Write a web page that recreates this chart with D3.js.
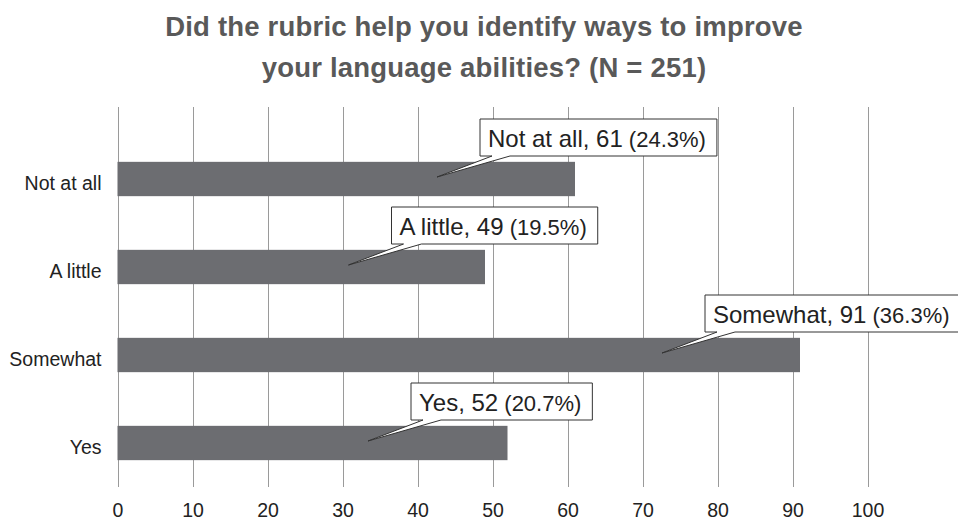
<!DOCTYPE html>
<html>
<head>
<meta charset="utf-8">
<script src="https://cdn.jsdelivr.net/npm/d3@7"></script>
<style>
  html, body { margin: 0; padding: 0; background: #fff; }
  svg { display: block; font-family: "Liberation Sans", Arial, Helvetica, sans-serif; }
</style>
</head>
<body>
<svg id="chart" width="958" height="520"></svg>
<script>
// ---- data ----
const titleLines = ["Did the rubric help you identify ways to improve", "your language abilities? (N = 251)"];
const totalN = 251;
const categories = ["Not at all", "A little", "Somewhat", "Yes"];
const counts = [61, 49, 91, 52];
const xTicks = [0, 10, 20, 30, 40, 50, 60, 70, 80, 90, 100];
// callout pointer tip positions, in data units along each bar
const calloutTip = [42.6, 30.8, 72.6, 33.4];

// ---- layout ----
const svg = d3.select("#chart");
const x = d3.scaleLinear().domain([0, 100]).range([117.5, 867.5]);
const y = d3.scaleBand().domain(categories).range([135, 487]).paddingInner(0.61).paddingOuter(0.305);
const gridTop = 107, gridBottom = 487;

// title
svg.append("g").selectAll("text").data(titleLines).join("text")
  .attr("x", 484).attr("y", (d, i) => 36 + i * 40.5)
  .attr("text-anchor", "middle")
  .style("font-size", "27.5px").style("font-weight", "bold")
  .style("letter-spacing", "0.2px")
  .attr("fill", "#595959")
  .text(d => d);

// x axis (gridlines + labels)
const xAxis = d3.axisBottom(x).tickValues(xTicks).tickSize(-(gridBottom - gridTop)).tickPadding(12);
const gx = svg.append("g").attr("transform", `translate(0,${gridBottom})`).call(xAxis);
gx.select(".domain").remove();
gx.selectAll(".tick line").attr("stroke", "#9a9a9a").attr("stroke-width", 1).attr("shape-rendering", "crispEdges");
gx.selectAll(".tick text").attr("fill", "#222").style("font-size", "19.5px")
  .style("font-family", "'Liberation Sans', Arial, sans-serif").attr("y", 29.5).attr("dy", 0);

// y axis labels
const yAxis = d3.axisLeft(y).tickSize(0).tickPadding(16);
const gy = svg.append("g").attr("transform", `translate(${x(0)},0)`).call(yAxis);
gy.select(".domain").remove();
gy.selectAll(".tick text").attr("fill", "#222").style("font-size", "19.5px")
  .style("font-family", "'Liberation Sans', Arial, sans-serif").attr("dy", "0.55em");

// bars
const rows = categories.map((c, i) => ({ cat: c, v: counts[i], tip: calloutTip[i] }));
svg.append("g").selectAll("rect").data(rows).join("rect")
  .attr("x", x(0)).attr("y", d => y(d.cat))
  .attr("width", d => x(d.v) - x(0)).attr("height", y.bandwidth())
  .attr("fill", "#6c6d71");

// callouts
const cg = svg.append("g");
rows.forEach(d => {
  const tipX = x(d.tip), tipY = y(d.cat) + y.bandwidth() / 2 - 2;
  const left = tipX + 43, bottom = tipY - 21, top = bottom - 37;
  const g = cg.append("g");
  const path = g.append("path");
  const t = g.append("text").attr("x", left + 8).attr("y", bottom - 9.5).attr("fill", "#222");
  t.append("tspan").style("font-size", "24px").text(`${d.cat}, ${d.v}`);
  t.append("tspan").style("font-size", "22px").text(` (${(d.v / totalN * 100).toFixed(1)}%)`);
  const w = t.node().getComputedTextLength() + 19;
  const right = left + w;
  path.attr("d", `M${left},${top}H${right}V${bottom}H${left + 30}L${tipX},${tipY}L${left + 12},${bottom}H${left}Z`)
    .attr("fill", "#fff").attr("stroke", "#333").attr("stroke-width", 1);
});
</script>
</body>
</html>
